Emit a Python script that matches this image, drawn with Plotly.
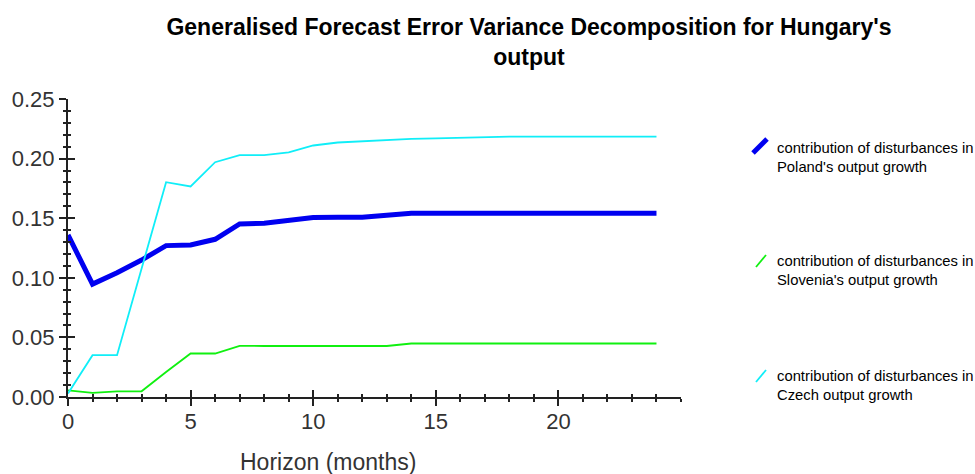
import plotly.graph_objects as go

# ---- data ----
horizon = list(range(25))
poland = [0.136, 0.0947, 0.1043, 0.1149, 0.127, 0.1275, 0.1323, 0.1452, 0.1457, 0.1485,
          0.1505, 0.1507, 0.1508, 0.1525, 0.1542, 0.1542, 0.1542, 0.1542, 0.1542, 0.1542,
          0.1542, 0.1542, 0.1542, 0.1542, 0.1542]
slovenia = [0.0056, 0.0034, 0.0048, 0.0048, 0.021, 0.0365, 0.0365, 0.0429, 0.0428, 0.0428,
            0.0428, 0.0428, 0.0428, 0.0428, 0.0449, 0.0449, 0.0449, 0.0449, 0.0449, 0.0449,
            0.0449, 0.0449, 0.0449, 0.0449, 0.0449]
czech = [0.003, 0.0351, 0.0351, 0.108, 0.1802, 0.1766, 0.197, 0.2029, 0.2029, 0.2052,
         0.211, 0.2135, 0.2145, 0.216, 0.2165, 0.217, 0.2175, 0.2185, 0.2185, 0.2185,
         0.2185, 0.2185, 0.2185, 0.2185, 0.2185]

x_tickvals = [0, 5, 10, 15, 20]
y_tickvals = [0.0, 0.05, 0.10, 0.15, 0.20, 0.25]

series_names = ["contribution of disturbances in<br>Poland's output growth",
                "contribution of disturbances in<br>Slovenia's output growth",
                "contribution of disturbances in<br>Czech output growth"]
colors = ["#0000F0", "#10F010", "#10EEF8"]
widths = [5, 1.8, 1.8]
series = [poland, slovenia, czech]

title_text = "Generalised Forecast Error Variance Decomposition for Hungary's<br>output"
x_title = "Horizon (months)"

fig = go.Figure()
for vals, c, w, n in zip(series, colors, widths, series_names):
    fig.add_trace(go.Scatter(x=horizon, y=vals, mode="lines", name=n,
                             line=dict(color=c, width=w), showlegend=False))

font_main = "Liberation Sans, Arial, sans-serif"
axis_common = dict(showgrid=False, zeroline=False, showline=True, linecolor="#222",
                   linewidth=2, automargin=False)

left, right, top, bottom = 68, 294, 99, 77
W, H = 975, 474
plot_w = W - left - right
plot_h = H - top - bottom

fig.update_layout(
    width=W, height=H,
    margin=dict(l=left, r=right, t=top, b=bottom),
    paper_bgcolor="white", plot_bgcolor="white",
    title=dict(text="<b>" + title_text + "</b>", x=529 / W, xanchor="center",
               xref="container", yref="container",
               y=1 - 35 / H, yanchor="top",
               font=dict(family=font_main, size=23, color="black")),
    xaxis=dict(range=[0, 25], tickmode="array", tickvals=x_tickvals,
               ticks="outside", ticklen=7, tickwidth=2, tickcolor="#222",
               ticklabelstandoff=-3,
               minor=dict(dtick=1, tick0=0, ticks="outside", ticklen=3, tickwidth=2, tickcolor="#222"),
               tickfont=dict(family=font_main, size=22, color="#333"),
               **axis_common),
    yaxis=dict(range=[0, 0.25], tickmode="array", tickvals=y_tickvals,
               tickformat=".2f",
               ticks="outside", ticklen=7, tickwidth=2, tickcolor="#222",
               minor=dict(dtick=0.01, tick0=0, ticks="outside", ticklen=3, tickwidth=2, tickcolor="#222"),
               tickfont=dict(family=font_main, size=22, color="#333"),
               **axis_common),
    xaxis2=dict(range=[0, 25], overlaying="x", anchor="y", side="bottom",
                tickmode="array", tickvals=x_tickvals, showticklabels=False,
                ticks="inside", ticklen=7, tickwidth=2, tickcolor="#222",
                minor=dict(dtick=1, tick0=0, ticks="inside", ticklen=3, tickwidth=2, tickcolor="#222"),
                showgrid=False, zeroline=False, showline=False, automargin=False),
    yaxis2=dict(range=[0, 0.25], overlaying="y", anchor="x", side="left",
                tickmode="array", tickvals=y_tickvals, showticklabels=False,
                ticks="inside", ticklen=7, tickwidth=2, tickcolor="#222",
                minor=dict(dtick=0.01, tick0=0, ticks="inside", ticklen=3, tickwidth=2, tickcolor="#222"),
                showgrid=False, zeroline=False, showline=False, automargin=False),
)

# dummy invisible trace so the overlay axes render
fig.add_trace(go.Scatter(x=[0], y=[0], xaxis="x2", yaxis="y2", mode="markers",
                         marker=dict(opacity=0), showlegend=False, hoverinfo="skip"))

def px(xp):
    return (xp - left) / plot_w
def py(yp):
    return (H - bottom - yp) / plot_h

# x-axis title (placed as in the reference, left of plot centre)
fig.add_annotation(text=x_title, xref="paper", yref="paper", x=px(328), y=py(462),
                   xanchor="center", yanchor="middle", showarrow=False,
                   font=dict(family=font_main, size=23, color="#333"))

# ---- custom legend (diagonal glyphs, as in the reference) ----
legend_centers = [157.5, 270, 385.5]
glyphs = [(753, 153, 767, 139), (756, 267, 766, 255), (756, 382, 766, 370)]
for n, c, w, yc, g in zip(series_names, colors, widths, legend_centers, glyphs):
    fig.add_shape(type="line", xref="paper", yref="paper",
                  x0=px(g[0]), y0=py(g[1]), x1=px(g[2]), y1=py(g[3]),
                  line=dict(color=c, width=w))
    fig.add_annotation(text=n, xref="paper", yref="paper", x=px(775), y=py(yc),
                       xanchor="left", yanchor="middle", align="left", showarrow=False,
                       font=dict(family=font_main, size=14.8, color="black"))

fig.write_html("out.html", config={"displayModeBar": False},
               post_script="document.body.style.margin='0';document.body.style.overflow='hidden';")
